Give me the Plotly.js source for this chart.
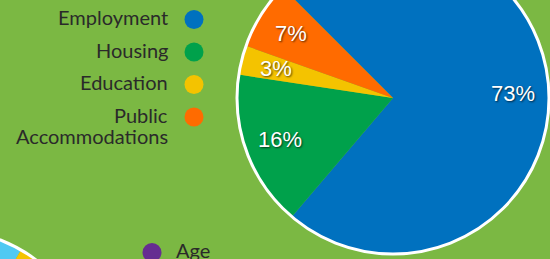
<!DOCTYPE html>
<html><head><meta charset="utf-8">
<script src="https://cdn.plot.ly/plotly-3.0.1.min.js"></script>
<style>
html,body{margin:0;padding:0;width:550px;height:259px;overflow:hidden;background:#7bb843;}
#chart{position:absolute;left:-250px;top:-100px;width:900px;height:700px;}
</style></head><body><div id="chart"></div>
<script>
// ---- data: chart 1 (main pie) ----
const categories = ["Employment", "Housing", "Education", "Public<br>Accommodations"];
const shares = [73, 16, 3, 7];
const sliceColors = ["#0071bf", "#00a14b", "#f4c300", "#ff6b00"];

// ---- data: chart 2 (cropped pie at lower left; only a corner is visible) ----
const categories2 = ["Age", "Race", "Sex", "Other"];
const shares2 = [20, 25, 30, 25];
const sliceColors2 = ["#662d91", "#4fc9f2", "#f4c300", "#9a9a9a"];

// ---- layout geometry (page pixels) ----
const W = 900, H = 700, OFFX = 250, OFFY = 100;
const pie1 = {cx: 393, cy: 98, r: 156, rot: -45};
const pie2 = {cx: -57, cy: 385, r: 156, rot: -132};
const bg = "#7bb843";
const textColor = "#2a2a2a";

function dom(p) {
  const cyb = H - (p.cy + OFFY);
  return {x: [(p.cx + OFFX - p.r) / W, (p.cx + OFFX + p.r) / W],
          y: [(cyb - p.r) / H, (cyb + p.r) / H]};
}

function pieTrace(vals, labs, cols, p) {
  return {type: "pie", values: vals, labels: labs, sort: false, direction: "clockwise",
    rotation: p.rot, domain: dom(p), textinfo: "none", hoverinfo: "none",
    marker: {colors: cols, line: {width: 0}}};
}
function ringTrace(p) {
  return {type: "pie", values: [1], labels: ["ring" + p.cx], sort: false, domain: dom(p),
    textinfo: "none", hoverinfo: "none",
    marker: {colors: ["rgba(0,0,0,0)"], line: {color: "#ffffff", width: 3}}};
}

const annotations = [];
// percentage labels along each slice's mid-angle
(function () {
  const total = shares.reduce((a, b) => a + b, 0);
  let acc = 0;
  shares.forEach((v) => {
    const mid = (pie1.rot + (acc + v / 2) / total * 360) * Math.PI / 180;
    acc += v;
    annotations.push({xref: "x", yref: "y",
      x: pie1.cx + 0.77 * pie1.r * Math.sin(mid),
      y: pie1.cy - 0.77 * pie1.r * Math.cos(mid),
      text: v + "%", showarrow: false, xanchor: "center", yanchor: "middle",
      font: {family: "Liberation Sans, Arial, sans-serif", size: 22, color: "#ffffff",
             shadow: "1px 1px 2px rgba(0,0,0,0.65)"}});
  });
})();

const legendFont = {family: "Lato, sans-serif", size: 20, color: textColor};

// legend 1: text on the left, marker on the right
const leg1 = {x: 194, top: 19.5, step: 32.5, gap: 24, line: 21};
const leg1Y = categories.map((c, i) => leg1.top + i * leg1.step);
categories.forEach((c, i) => {
  c.split("<br>").forEach((ln, k) => {
    annotations.push({xref: "x", yref: "y", x: leg1.x - leg1.gap, y: leg1Y[i] + k * leg1.line,
      yshift: 2.5, text: ln, showarrow: false, xanchor: "right", yanchor: "middle",
      font: legendFont});
  });
});
// legend 2: marker on the left, text on the right
const leg2 = {x: 152, top: 252.5, step: 32.5, gap: 22};
const leg2Y = categories2.map((c, i) => leg2.top + i * leg2.step);
categories2.forEach((c, i) => {
  annotations.push({xref: "x", yref: "y", x: leg2.x + leg2.gap, y: leg2Y[i],
    yshift: 2.5, text: c, showarrow: false, xanchor: "left", yanchor: "middle",
    font: legendFont});
});

const data = [
  {type: "scatter", mode: "markers", x: categories.map(() => leg1.x), y: leg1Y,
   marker: {size: 19, color: sliceColors, line: {width: 0}}, hoverinfo: "none"},
  {type: "scatter", mode: "markers", x: categories2.map(() => leg2.x), y: leg2Y,
   marker: {size: 19, color: sliceColors2, line: {width: 0}}, hoverinfo: "none"},
  pieTrace(shares2, categories2, sliceColors2, pie2),
  ringTrace(pie2),
  pieTrace(shares, categories, sliceColors, pie1),
  ringTrace(pie1)
];

const layout = {
  width: W, height: H, margin: {l: 0, r: 0, t: 0, b: 0, pad: 0},
  paper_bgcolor: bg, plot_bgcolor: bg, showlegend: false,
  xaxis: {range: [-OFFX, W - OFFX], visible: false, fixedrange: true, domain: [0, 1]},
  yaxis: {range: [H - OFFY, -OFFY], visible: false, fixedrange: true, domain: [0, 1]},
  annotations: annotations
};
Plotly.newPlot("chart", data, layout, {staticPlot: true, displayModeBar: false});
</script></body></html>
